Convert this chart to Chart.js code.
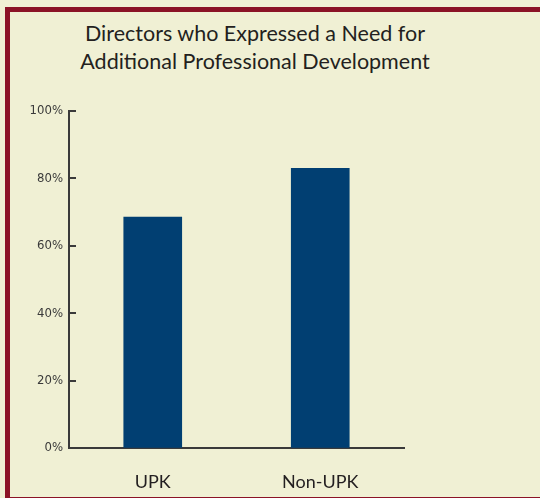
<!DOCTYPE html>
<html>
<head>
<meta charset="utf-8">
<script src="https://cdn.jsdelivr.net/npm/chart.js@4.4.0/dist/chart.umd.min.js"></script>
<style>
  html, body { margin: 0; padding: 0; }
  body { width: 540px; height: 498px; overflow: hidden; position: relative; background: #f0f0d4; }
  #frame { position: absolute; left: 5px; top: 7px; width: 560px; height: 485px; border: 5px solid #8b1326; }
  #title { position: absolute; left: 0; width: 510px; top: 19px; text-align: center;
           font-family: Lato, "Open Sans", sans-serif; font-size: 21.5px; line-height: 28px; color: #231f20; }
  #wrap { position: absolute; left: 0; top: 0; width: 540px; height: 498px; }
</style>
</head>
<body>
<div id="frame"></div>
<div id="title">Directors who Expressed a Need for<br>Additional Professional Development</div>
<div id="wrap"><canvas id="c"></canvas></div>
<script>
// 数据：两组的百分比
const categories = ['UPK', 'Non-UPK'];
const values = [68.5, 83];
const yTicks = [0, 20, 40, 60, 80, 100];

const axisColor = '#3a3a3a';

// y 轴刻度线朝内画（Chart.js 默认朝外）
const innerTicks = {
  id: 'innerTicks',
  afterDraw(chart) {
    const y = chart.scales.y, ctx = chart.ctx, left = chart.chartArea.left;
    ctx.save();
    ctx.strokeStyle = axisColor;
    ctx.lineWidth = 2;
    y.ticks.forEach((t, i) => {
      const py = Math.round(y.getPixelForTick(i));
      ctx.beginPath();
      ctx.moveTo(left, py);
      ctx.lineTo(left + 7, py);
      ctx.stroke();
    });
    ctx.restore();
  }
};

new Chart(document.getElementById('c'), {
  type: 'bar',
  data: {
    labels: categories,
    datasets: [{ data: values, backgroundColor: '#013f72', barThickness: 58 }],
  },
  options: {
    responsive: true, maintainAspectRatio: false, animation: false,
    layout: { padding: { top: 111, right: 136, left: 0, bottom: 0 } },
    plugins: { legend: { display: false }, tooltip: { enabled: false } },
    scales: {
      y: {
        min: 0, max: 100,
        afterBuildTicks: (s) => { s.ticks = yTicks.map((v) => ({ value: v })); },
        afterFit: (s) => { s.width = 69; },
        grid: { drawOnChartArea: false, drawTicks: false },
        border: { color: axisColor, width: 2 },
        ticks: {
          padding: 6, color: '#3a3a3a',
          font: { family: '"Liberation Sans Narrow", "DejaVu Sans Condensed", sans-serif', size: 13 },
          callback: (v) => v + '%',
        },
      },
      x: {
        afterFit: (s) => { s.height = 50; },
        grid: { drawOnChartArea: false, drawTicks: false },
        border: { color: axisColor, width: 2 },
        ticks: {
          padding: 23, color: '#231f20',
          font: { family: 'Lato, "Open Sans", sans-serif', size: 18 },
        },
      },
    },
  },
  plugins: [innerTicks],
});
</script>
</body>
</html>
